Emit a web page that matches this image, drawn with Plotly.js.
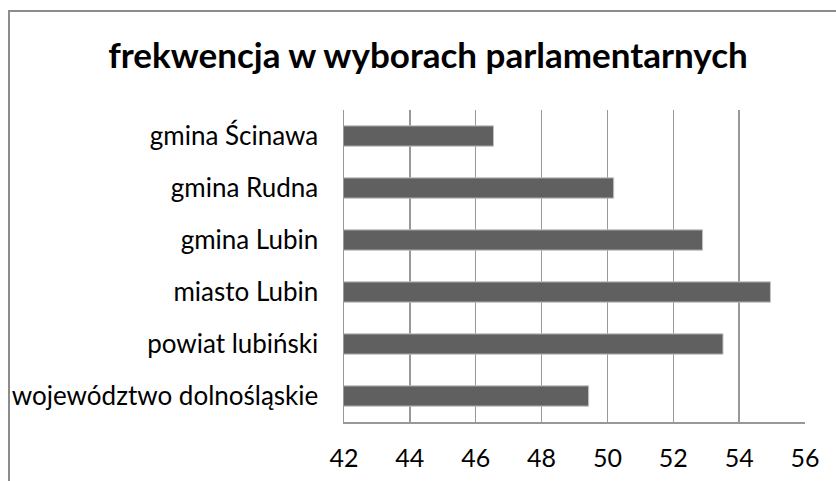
<!DOCTYPE html>
<html>
<head>
<meta charset="utf-8">
<script src="https://cdn.plot.ly/plotly-3.0.1.min.js"></script>
<style>
  html, body { margin: 0; padding: 0; background: #fff; }
  #frame { position: absolute; left: 8px; top: 10px; width: 900px; height: 600px; border-left: 2px solid #8c8c8c; border-top: 2px solid #8c8c8c; }
  #chart { position: absolute; left: 0; top: 0; width: 836px; height: 481px; }
</style>
</head>
<body>
<div id="frame"></div>
<div id="chart"></div>
<script>
const categories = ["gmina Ścinawa", "gmina Rudna", "gmina Lubin", "miasto Lubin", "powiat lubiński", "województwo dolnośląskie"];
const values = [46.54, 50.19, 52.89, 54.95, 53.51, 49.43];
const tickValues = [42, 44, 46, 48, 50, 52, 54, 56];
const titleText = "frekwencja w wyborach parlamentarnych";

const fontFam = "Lato, 'Open Sans', sans-serif";

Plotly.newPlot("chart", [{
  type: "bar",
  orientation: "h",
  y: categories,
  x: values,
  marker: { color: "#606060", line: { color: "#c4c4c4", width: 1 } },
  hoverinfo: "x+y"
}], {
  width: 836, height: 481,
  paper_bgcolor: "rgba(0,0,0,0)",
  plot_bgcolor: "rgba(0,0,0,0)",
  margin: { l: 344, r: 31, t: 110, b: 59 },
  bargap: 0.61,
  showlegend: false,
  title: { text: "<b>" + titleText + "</b>", x: 0.512, xanchor: "center", y: 0.885, yanchor: "middle",
           font: { family: fontFam, size: 35, color: "#000" } },
  xaxis: {
    range: [42, 56], tickvals: tickValues, ticktext: tickValues.map(String),
    showgrid: true, gridcolor: "#989898", gridwidth: 1.5,
    showline: true, linecolor: "#989898", linewidth: 1.5,
    zeroline: false, ticks: "", ticklabelstandoff: 13,
    tickfont: { family: fontFam, size: 25, color: "#000" }, fixedrange: true
  },
  yaxis: {
    autorange: "reversed", type: "category",
    showgrid: false, showline: true, linecolor: "#989898", linewidth: 1.5,
    ticks: "", ticklabelstandoff: 19,
    tickfont: { family: fontFam, size: 26, color: "#000" }, fixedrange: true
  }
}, { displayModeBar: false, staticPlot: true });
</script>
</body>
</html>
